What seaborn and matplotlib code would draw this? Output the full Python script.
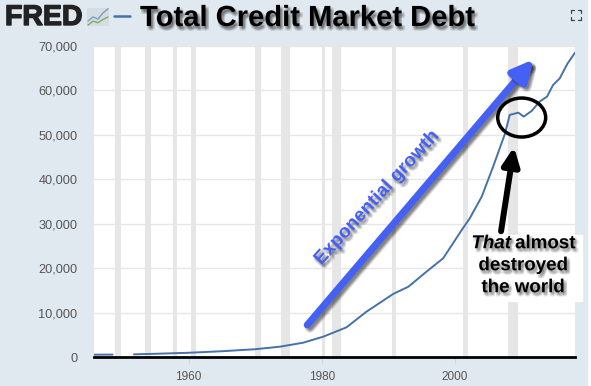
import numpy as np
import pandas as pd
import matplotlib
matplotlib.use("Agg")
import matplotlib.pyplot as plt
import matplotlib.patheffects as pe
from matplotlib.lines import Line2D
from matplotlib.patches import Rectangle, Ellipse
import seaborn as sns

early_years = [1945.8, 1947, 1948.6]
early_debt = [520, 530, 540]
main_years = [1951.8, 1955, 1960, 1965, 1970, 1973.7, 1977.2, 1980.2, 1983.7, 1986.7, 1990.7, 1993,
              1995.7, 1998.2, 2000, 2001, 2002.2, 2004, 2005.7, 2007.5, 2008.2, 2009.5, 2010.3,
              2011.5, 2012.7, 2013.8, 2014.7, 2015.7, 2016.9, 2018]
main_debt = [600, 720, 950, 1300, 1750, 2320, 3220, 4570, 6680, 10200, 14180, 15830,
             19200, 22200, 26300, 28600, 31200, 36100, 42800, 50300, 54500, 55000, 54100,
             55400, 57500, 58600, 61200, 62700, 66100, 68500]
recession_start = [1948.9, 1953.5, 1957.6, 1960.3, 1969.9, 1973.9, 1980.0, 1981.5, 1990.5, 2001.2, 2007.9]
recession_end = [1949.8, 1954.4, 1958.3, 1961.1, 1970.9, 1975.2, 1980.5, 1982.9, 1991.2, 2001.9, 2009.5]
y_ticks = [0, 10000, 20000, 30000, 40000, 50000, 60000, 70000]
x_ticks = [1960, 1980, 2000]

W, H = 591, 386
BG = "#e1e9f0"
BLUE = "#4572a7"
ARROW = "#4460f5"

sns.set_theme(style="white")
plt.rcParams["font.family"] = ["Liberation Sans", "DejaVu Sans"]


def soft_text(dx=1.5, dy=-2.0, strength=0.07):
    layers = []
    for ox in (-1.0, 0, 1.0):
        for oy in (-1.0, 0, 1.0):
            layers.append(pe.SimplePatchShadow(offset=(dx + ox, dy + oy), shadow_rgbFace="black", alpha=strength))
    return layers + [pe.Normal()]


def soft_line(dx=2, dy=-2, strength=0.07):
    layers = []
    for ox in (-1.0, 0, 1.0):
        for oy in (-1.0, 0, 1.0):
            layers.append(pe.SimpleLineShadow(offset=(dx + ox, dy + oy), alpha=strength, shadow_color="black"))
    return layers + [pe.Normal()]


fig = plt.figure(figsize=(W / 100, H / 100), dpi=100, facecolor="white")
fig.add_artist(Rectangle((0, 0), 587 / W, 1, transform=fig.transFigure, color=BG, zorder=-10))
ax = fig.add_axes([94 / W, 1 - 357 / H, (575 - 94) / W, (357 - 46) / H])
ax.set_xlim(1945.8, 2018)
ax.set_ylim(0, 70000)
ax.set_facecolor("white")

for a, b in zip(recession_start, recession_end):
    ax.axvspan(a, b, color="#e6e6e6", lw=0, zorder=1)
ax.yaxis.grid(True, color="#e6e6e6", lw=1, zorder=0.5)
ax.set_axisbelow(True)

df = pd.concat([
    pd.DataFrame({"year": early_years, "debt": early_debt, "seg": 0}),
    pd.DataFrame({"year": main_years, "debt": main_debt, "seg": 1}),
])
sns.lineplot(data=df, x="year", y="debt", units="seg", estimator=None, color=BLUE, lw=1.4, ax=ax, zorder=3)

ax.set_xlabel("")
ax.set_ylabel("")
ax.set_xticks(x_ticks)
ax.set_yticks(y_ticks)
ax.set_yticklabels([f"{v:,}" for v in y_ticks])
ax.tick_params(axis="y", length=0, pad=12, labelsize=9.2, labelcolor="#555555")
ax.tick_params(axis="x", length=5, width=0.8, color="#ccd6eb", pad=5, labelsize=8.5, labelcolor="#555555", bottom=True)
for s in ["top", "left", "right"]:
    ax.spines[s].set_visible(False)
ax.spines["bottom"].set_color("black")
ax.spines["bottom"].set_linewidth(2)
ax.spines["bottom"].set_zorder(5)

# blue arrow
ax.annotate("", xy=(2011.8, 67000), xytext=(1977.8, 7200),
            arrowprops=dict(arrowstyle="-|>,head_length=1.05,head_width=0.52", lw=5, color=ARROW,
                            shrinkA=0, shrinkB=0, capstyle="round", path_effects=soft_line()),
            zorder=6)
ax.text(1988.3, 35800, "Exponential growth", rotation=47.5, rotation_mode="anchor", ha="center", va="center",
        color=ARROW, fontsize=13.6, fontweight="bold", path_effects=soft_text(), zorder=7)

# black arrow
ax.annotate("", xy=(2008.85, 47300), xytext=(2006.9, 28300),
            arrowprops=dict(arrowstyle="-|>,head_length=0.9,head_width=0.42", lw=4.3, color="black",
                            shrinkA=0, shrinkB=0, capstyle="round"), zorder=6)
ax.add_patch(Ellipse((2010.0, 53900), 48 / 6.67, 39 / 311 * 70000, fill=False, ec="black", lw=2.5, zorder=6))

# white box with annotation
ax.add_patch(Rectangle((2001.9, 12700), 17.2, 14700, color="white", zorder=4, clip_on=False))
note_kw = dict(va="center", fontsize=13.5, fontweight="bold", color="black", path_effects=soft_text(), zorder=7)
ax.text(2008.4, 25500, "That", ha="right", fontstyle="italic", **note_kw)
ax.text(2009.0, 25500, "almost", ha="left", **note_kw)
ax.text(2010.2, 20550, "destroyed", ha="center", **note_kw)
ax.text(2010.2, 15600, "the world", ha="center", **note_kw)

# header
fig.text(5 / W, 1 - 18 / H, "FRED", fontsize=20.5, fontweight="bold", color="#222222", va="center", ha="left",
         path_effects=[pe.withStroke(linewidth=1.0, foreground="#222222")])
icon = fig.add_axes([87 / W, 1 - 26 / H, 22 / W, 18 / H], facecolor="#d5dde4")
icon.plot([0, 1, 2, 3, 4], [2, 3, 2.5, 4, 5], color="#7f9cb8", lw=1)
icon.plot([0, 1, 2, 3, 4], [1, 2, 1.6, 2.4, 3], color="#7faf5a", lw=1)
icon.set_xticks([]); icon.set_yticks([])
for s in icon.spines.values():
    s.set_visible(False)
fig.add_artist(Line2D([114 / W, 130 / W], [1 - 16 / H] * 2, color=BLUE, lw=1.8))
fig.text(140 / W, 1 - 18 / H, "Total Credit Market Debt", fontsize=21, fontweight="bold", color="black",
         va="center", ha="left", path_effects=soft_text(1.5, -2.2, 0.08))

# fullscreen icon corners
cx0, cx1, cy0, cy1 = 570.5, 580.5, 10, 19.5
for xc, yc, dx, dy in [(cx0, cy0, 3, 3), (cx1, cy0, -3, 3), (cx0, cy1, 3, -3), (cx1, cy1, -3, -3)]:
    fig.add_artist(Line2D([(xc + dx) / W, xc / W, xc / W], [1 - yc / H, 1 - yc / H, 1 - (yc + dy) / H],
                          color="#444444", lw=0.9))

fig.savefig("out.png", dpi=100, facecolor=fig.get_facecolor())
